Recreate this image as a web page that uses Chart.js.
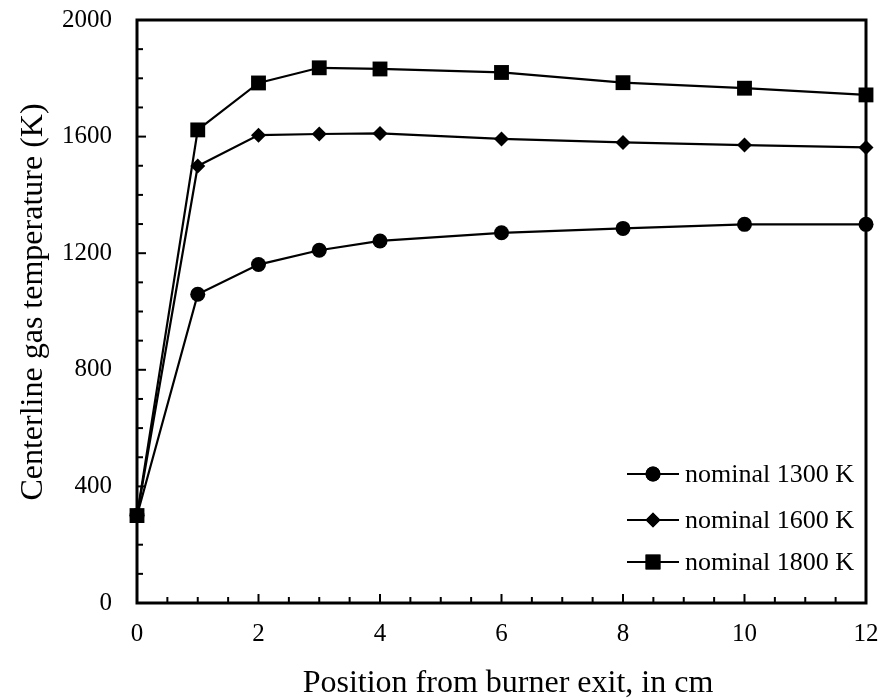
<!DOCTYPE html>
<html>
<head>
<meta charset="utf-8">
<script src="https://cdn.jsdelivr.net/npm/chart.js@4/dist/chart.umd.min.js"></script>
<style>
  html, body { margin: 0; padding: 0; background: #fff; }
  #wrap { width: 884px; height: 698px; }
</style>
</head>
<body>
<div id="wrap"><canvas id="tempChart"></canvas></div>
<script>
// position from burner exit (cm)
const positions = [0, 1, 2, 3, 4, 6, 8, 10, 12];
const temp1300 = [300, 1059, 1161, 1210, 1242, 1270, 1285, 1299, 1299];
const temp1600 = [300, 1499, 1605, 1609, 1611, 1592, 1580, 1571, 1563];
const temp1800 = [300, 1623, 1784, 1836, 1832, 1820, 1785, 1766, 1743];
const seriesLabels = ['nominal 1300 K', 'nominal 1600 K', 'nominal 1800 K'];
const xTitle = 'Position from burner exit, in cm';
const yTitle = 'Centerline gas temperature (K)';

const serif = '"Liberation Serif", "Times New Roman", serif';

const toPoints = vals => positions.map((x, i) => ({ x: x, y: vals[i] }));

const markerStyles = [
    { pointStyle: 'circle', pointRadius: 7.5 },
    { pointStyle: 'rectRot', pointRadius: 7.5 },
    { pointStyle: 'rect', pointRadius: 10.5 }
];

// frame + inward ticks (major and minor), titles and legend
const framePlugin = {
    id: 'frame',
    beforeDatasetsDraw(chart) {
        const { ctx, chartArea: a, scales } = chart;
        ctx.save();
        ctx.strokeStyle = '#000';
        ctx.lineWidth = 2;
        for (let v = 0; v <= 2000; v += 100) {
            const y = scales.y.getPixelForValue(v);
            const len = v % 400 === 0 ? 9 : 6;
            ctx.beginPath();
            ctx.moveTo(a.left, y);
            ctx.lineTo(a.left + len, y);
            ctx.stroke();
        }
        for (let v = 0; v <= 12; v += 0.5) {
            const x = scales.x.getPixelForValue(v);
            const len = v % 2 === 0 ? 9 : 6;
            ctx.beginPath();
            ctx.moveTo(x, a.bottom);
            ctx.lineTo(x, a.bottom - len);
            ctx.stroke();
        }
        ctx.lineWidth = 3;
        ctx.strokeRect(a.left, a.top, a.right - a.left, a.bottom - a.top);
        ctx.restore();
    },
    afterDraw(chart) {
        const { ctx } = chart;
        ctx.save();
        ctx.fillStyle = '#000';
        ctx.font = '32px ' + serif;
        ctx.textAlign = 'center';
        ctx.textBaseline = 'alphabetic';
        ctx.fillText(xTitle, 508, 692);
        ctx.translate(42, 302);
        ctx.rotate(-Math.PI / 2);
        ctx.fillText(yTitle, 0, 0);
        ctx.restore();

        // legend inside the plot, bottom right
        ctx.save();
        ctx.font = '26px ' + serif;
        ctx.textBaseline = 'middle';
        ctx.textAlign = 'left';
        const rows = [474, 520, 562];
        seriesLabels.forEach((label, i) => {
            const y = rows[i];
            ctx.strokeStyle = '#000';
            ctx.lineWidth = 2;
            ctx.beginPath();
            ctx.moveTo(627, y);
            ctx.lineTo(679, y);
            ctx.stroke();
            ctx.fillStyle = '#000';
            Chart.helpers.drawPoint(ctx, {
                pointStyle: markerStyles[i].pointStyle,
                radius: markerStyles[i].pointRadius,
                rotation: 0,
                borderWidth: 0
            }, 653, y);
            ctx.fill();
            ctx.fillText(label, 685, y + 1);
        });
        ctx.restore();
    }
};

const makeDataset = (label, vals, i, order) => ({
    label: label,
    data: toPoints(vals),
    showLine: true,
    borderColor: '#000',
    backgroundColor: '#000',
    borderWidth: 2.2,
    pointStyle: markerStyles[i].pointStyle,
    pointRadius: markerStyles[i].pointRadius,
    pointBorderWidth: 0,
    pointBackgroundColor: '#000',
    tension: 0,
    clip: false,
    order: order
});

new Chart(document.getElementById('tempChart'), {
    type: 'scatter',
    data: {
        datasets: [
            makeDataset(seriesLabels[0], temp1300, 0, 2),
            makeDataset(seriesLabels[1], temp1600, 1, 1),
            makeDataset(seriesLabels[2], temp1800, 2, 0)
        ]
    },
    options: {
        responsive: true,
        maintainAspectRatio: false,
        animation: false,
        layout: { padding: { top: 20, right: 18, left: 0, bottom: 0 } },
        plugins: {
            legend: { display: false },
            tooltip: { enabled: false }
        },
        scales: {
            x: {
                type: 'linear',
                min: 0,
                max: 12,
                grid: { display: false, drawTicks: false },
                border: { display: false },
                ticks: {
                    stepSize: 2,
                    padding: 16,
                    color: '#000',
                    font: { family: serif, size: 25 },
                    callback: v => String(v)
                },
                afterFit(scale) {
                    scale.height = 95;
                    scale.paddingLeft = 0;
                    scale.paddingRight = 0;
                }
            },
            y: {
                min: 0,
                max: 2000,
                grid: { display: false, drawTicks: false },
                border: { display: false },
                ticks: {
                    stepSize: 400,
                    padding: 25,
                    color: '#000',
                    font: { family: serif, size: 25 },
                    callback: v => String(v)
                },
                afterFit(scale) {
                    scale.width = 137;
                    scale.paddingTop = 0;
                    scale.paddingBottom = 0;
                }
            }
        }
    },
    plugins: [framePlugin]
});
</script>
</body>
</html>
